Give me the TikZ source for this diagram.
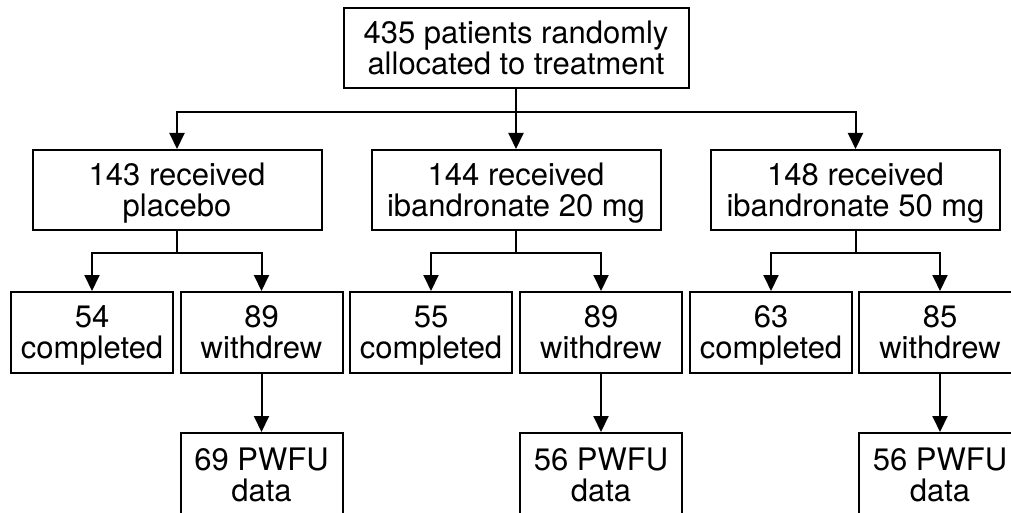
\documentclass[tikz,border=0pt]{standalone}
\usepackage{fontspec}
\setmainfont{TeX Gyre Heros}
\usepackage{tikz}
\usetikzlibrary{arrows.meta}

\begin{document}
\begin{tikzpicture}[->,>={Triangle[length=16pt,width=15pt]},x=1pt,y=-1pt,line width=2pt,
  box/.style={draw,rectangle,align=center,inner sep=0pt,text depth=0pt,font=\fontsize{31}{31}\selectfont},
  big/.style={box,minimum width=289pt,minimum height=80pt},
  small/.style={box,minimum width=162pt,minimum height=81pt}]
  \useasboundingbox (0,0) rectangle (1011,513);
  \clip (0,0) rectangle (1011,513);

  \node [box,minimum width=345pt,minimum height=80pt] (all) at (516,48) {435 patients randomly\\allocated to treatment};

  \node [big] (pla) at (177,190) {143 received\\placebo};
  \node [big] (i20) at (516,190) {144 received\\ibandronate 20 mg};
  \node [big] (i50) at (855.5,190) {148 received\\ibandronate 50 mg};

  \node [small] (c1) at (92,332.5) {54\\completed};
  \node [small] (w1) at (261.5,332.5) {89\\withdrew};
  \node [small] (c2) at (431,332.5) {55\\completed};
  \node [small] (w2) at (601,332.5) {89\\withdrew};
  \node [small] (c3) at (771,332.5) {63\\completed};
  \node [small] (w3) at (940,332.5) {85\\withdrew};

  \node [small,minimum height=84pt] (d1) at (261.5,475) {69 PWFU\\data};
  \node [small,minimum height=84pt] (d2) at (601,475) {56 PWFU\\data};
  \node [small,minimum height=84pt] (d3) at (940,475) {56 PWFU\\data};

  \coordinate (s0) at (516,112);
  \coordinate (s1) at (177,253);
  \coordinate (s2) at (516,253);
  \coordinate (s3) at (855.5,253);

  \path[-] (all) edge (s0);
  \draw (s0) -| (pla);
  \draw (s0) -- (i20);
  \draw (s0) -| (i50);

  \path[-] (pla) edge (s1);
  \path[-] (i20) edge (s2);
  \path[-] (i50) edge (s3);

  \draw (s1) -| (c1);
  \draw (s1) -| (w1);
  \draw (s2) -| (c2);
  \draw (s2) -| (w2);
  \draw (s3) -| (c3);
  \draw (s3) -| (w3);

  \path[->] (w1) edge (d1);
  \path[->] (w2) edge (d2);
  \path[->] (w3) edge (d3);
\end{tikzpicture}
\end{document}
